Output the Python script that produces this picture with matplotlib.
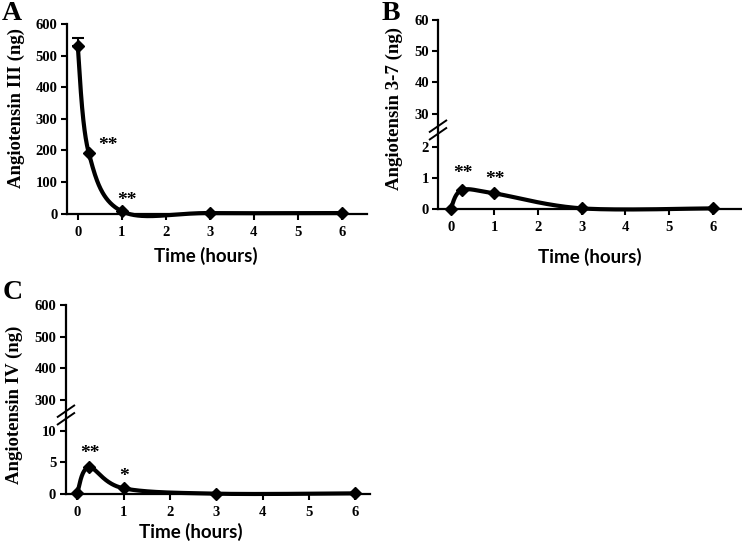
import numpy as np
import matplotlib.pyplot as plt

# time points (hours)
time_h = [0, 0.25, 1, 3, 6]

# Angiotensin III (ng)
ang3 = [530, 193, 8, 2, 2]
ang3_err_up = [25, 0, 0, 0, 0]
# Angiotensin 3-7 (ng)
ang37 = [0, 0.6, 0.5, 0.02, 0.02]
# Angiotensin IV (ng)
ang4 = [0.2, 4.2, 0.9, 0.05, 0.1]

# significance marks (x, y baseline, text)
stars_a = [(0.68, 200, '**'), (1.11, 29, '**')]
stars_b = [(0.27, 1.0, '**'), (1.02, 0.81, '**')]
stars_c = [(0.27, 5.7, '**'), (1.01, 2.06, '*')]

serif = 'Liberation Serif'
sans = 'Lato'


def excel_smooth(x, y, n=60):
    # Excel-style smoothed line: cubic bezier, control points at 1/6
    p = np.column_stack([x, y]).astype(float)
    m = len(p)
    t = np.linspace(0, 1, n)[:, None]
    out = []
    for i in range(m - 1):
        a = p[max(i - 1, 0)]
        d = p[min(i + 2, m - 1)]
        c1 = p[i] + (p[i + 1] - a) / 6
        c2 = p[i + 1] - (d - p[i]) / 6
        seg = ((1 - t) ** 3) * p[i] + 3 * (1 - t) ** 2 * t * c1 \
            + 3 * (1 - t) * t ** 2 * c2 + t ** 3 * p[i + 1]
        out.append(seg)
    s = np.vstack(out)
    return s[:, 0], s[:, 1]


def broken_scale(lo, hi, hi_pos, ratio):
    # linear up to lo, squeezed between lo and hi, compressed by ratio above hi
    g = hi_pos - lo

    def fwd(v):
        v = np.asarray(v, float)
        return np.where(v <= lo, v,
                        np.where(v <= hi, lo + (v - lo) * g / (hi - lo),
                                 hi_pos + (v - hi) / ratio))

    def inv(u):
        u = np.asarray(u, float)
        return np.where(u <= lo, u,
                        np.where(u <= hi_pos, lo + (u - lo) * (hi - lo) / g,
                                 hi + (u - hi_pos) * ratio))
    return fwd, inv


def style(ax, xlim, ypad=3):
    for s in ['top', 'right']:
        ax.spines[s].set_visible(False)
    for s in ['left', 'bottom']:
        ax.spines[s].set_linewidth(1.6)
    ax.set_xlim(*xlim)
    ax.set_xticks(range(7))
    ax.tick_params(direction='out', length=4, width=1.5)
    ax.tick_params(axis='x', pad=4.5)
    ax.tick_params(axis='y', pad=ypad)
    for lab in ax.get_xticklabels() + ax.get_yticklabels():
        lab.set_fontfamily(serif)
        lab.set_fontweight('bold')
        lab.set_fontsize(10.5)


def draw(ax, y, err_up=None):
    sx, sy = excel_smooth(time_h, y)
    ax.plot(sx, sy, color='black', lw=3.0, clip_on=False, solid_capstyle='round')
    ax.plot(time_h, y, 'D', color='black', ms=6.5, clip_on=False)
    if err_up is not None:
        ax.errorbar(time_h[:1], y[:1], yerr=[[0], err_up[:1]], fmt='none',
                    ecolor='black', elinewidth=1.5, capsize=4, capthick=1.5,
                    clip_on=False)


def break_marks(ax, yfrac):
    kw = dict(transform=ax.transAxes, color='black', lw=1.4, clip_on=False)
    dx = 0.027
    for off in (-0.02, 0.02):
        ax.plot([-dx, dx], [yfrac + off - 0.03, yfrac + off + 0.03], **kw)


def labels(ax, ylabel, ylab_pos, xlab_pos, letter, letter_xy):
    ax.set_ylabel(ylabel, fontfamily=serif, fontweight='bold', fontsize=13.5)
    ax.yaxis.set_label_coords(*ylab_pos)
    ax.set_xlabel('Time (hours)', fontfamily=sans, fontweight='bold', fontsize=13.5)
    ax.xaxis.set_label_coords(*xlab_pos)
    fig.text(letter_xy[0], letter_xy[1], letter, fontfamily=serif,
             fontweight='bold', fontsize=20, va='top', ha='left')


def stars(ax, marks, fs=14):
    for x, y, t in marks:
        ax.text(x, y, t, ha='center', va='baseline', fontfamily=serif,
                fontweight='bold', fontsize=fs)


fig = plt.figure(figsize=(7.42, 5.41), dpi=100)

# Panel A
ax_a = fig.add_axes([0.0903, 0.605, 0.4043, 0.3507])
draw(ax_a, ang3, ang3_err_up)
ax_a.set_ylim(0, 600)
ax_a.set_yticks(range(0, 601, 100))
style(ax_a, (-0.243, 6.575))
stars(ax_a, stars_a)
labels(ax_a, 'Angiotensin III (ng)', (-0.14, 0.557), (0.463, -0.176), 'A', (0.003, 0.998))

# Panel B (broken axis)
ax_b = fig.add_axes([0.5903, 0.6137, 0.4097, 0.3494])
fwd_b, inv_b = broken_scale(2.4, 25, 2.55, 10)
ax_b.set_yscale('function', functions=(fwd_b, inv_b))
draw(ax_b, ang37)
ax_b.set_ylim(0, 60)
ax_b.set_yticks([0, 1, 2, 30, 40, 50, 60])
ax_b.set_yticklabels(['0', '1', '2', '30', '40', '50', '60'])
ax_b.yaxis.set_minor_locator(plt.NullLocator())
style(ax_b, (-0.29, 6.67), ypad=2.5)
break_marks(ax_b, 0.418)
stars(ax_b, stars_b)
labels(ax_b, 'Angiotensin 3-7 (ng)', (-0.115, 0.534), (0.5, -0.206), 'B', (0.514, 0.998))

# Panel C (broken axis)
ax_c = fig.add_axes([0.0889, 0.0869, 0.4097, 0.3494])
fwd_c, inv_c = broken_scale(12, 250, 12.4, 20)
ax_c.set_yscale('function', functions=(fwd_c, inv_c))
draw(ax_c, ang4)
ax_c.set_ylim(0, 600)
ax_c.set_yticks([0, 5, 10, 300, 400, 500, 600])
ax_c.set_yticklabels(['0', '5', '10', '300', '400', '500', '600'])
ax_c.yaxis.set_minor_locator(plt.NullLocator())
style(ax_c, (-0.244, 6.32))
break_marks(ax_c, 0.418)
stars(ax_c, stars_c)
labels(ax_c, 'Angiotensin IV (ng)', (-0.141, 0.474), (0.41, -0.153), 'C', (0.003, 0.483))

fig.savefig('out.png', dpi=100)
